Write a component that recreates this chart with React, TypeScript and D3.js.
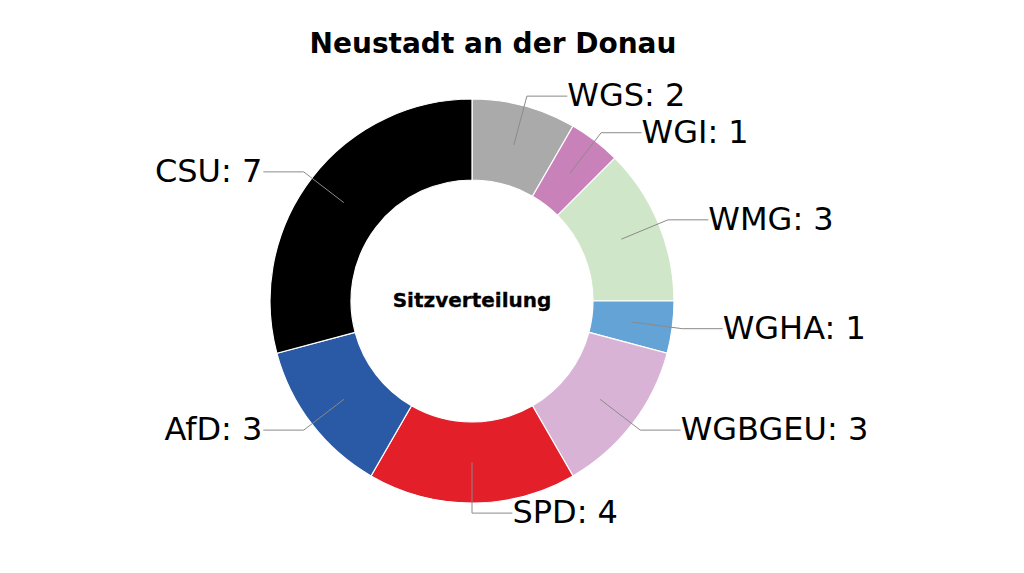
import React from "react";
import * as d3 from "d3";

const parties = ["WGS", "WGI", "WMG", "WGHA", "WGBGEU", "SPD", "AfD", "CSU"];
const seats = [2, 1, 3, 1, 3, 4, 3, 7];
const colors = ["#aaaaaa", "#c981b9", "#d0e6c8", "#64a3d6", "#d8b3d6", "#e31f2a", "#2a5aa6", "#000000"];
const title = "Neustadt an der Donau";
const centerLabel = "Sitzverteilung";

const W = 1024;
const H = 573;
const cx = 472;
const cy = 301;
const R = 202;
const r0 = 121;
const FONT = "'DejaVu Sans', sans-serif";

export default function App() {
  const data = parties.map((p, i) => ({ party: p, seats: seats[i], color: colors[i] }));
  const pie = d3.pie<any>().value((d) => d.seats).sort(null).startAngle(0).endAngle(2 * Math.PI);
  const arcs = pie(data);
  const arcGen = d3.arc<any>().innerRadius(r0).outerRadius(R);

  return (
    <svg width={W} height={H} style={{ position: "absolute", left: 0, top: 0, background: "#fff" }}>
      <text x={493} y={53} textAnchor="middle" fontFamily={FONT} fontWeight="bold" fontSize={28} fill="#000">
        {title}
      </text>
      <g transform={`translate(${cx},${cy})`}>
        {arcs.map((a, i) => (
          <path key={i} d={arcGen(a) as string} fill={a.data.color} stroke="#fff" strokeWidth={1.2} />
        ))}
        {arcs.map((a, i) => {
          const mid = (a.startAngle + a.endAngle) / 2;
          const s = Math.sin(mid);
          const c = Math.cos(mid);
          const sign = s < -1e-9 ? -1 : 1;
          const sx = 0.8 * R * s;
          const sy = -0.8 * R * c;
          const ty = -1.05 * R * c;
          const tx = (1.05 * s + 0.2 * sign) * R;
          let kx = sx;
          if (Math.abs(c) > 1e-6) {
            const t = (ty - sy) / -c;
            kx = sx + t * s;
          }
          const label = `${a.data.party}: ${a.data.seats}`;
          return (
            <g key={"l" + i}>
              <polyline
                points={`${sx},${sy} ${kx},${ty} ${tx},${ty}`}
                fill="none"
                stroke="#8a8a8a"
                strokeWidth={1}
              />
              <text
                x={sign > 0 ? tx : tx - 1}
                y={ty + 10}
                textAnchor={sign > 0 ? "start" : "end"}
                fontFamily={FONT}
                fontSize={32}
                fill="#000"
              >
                {label}
              </text>
            </g>
          );
        })}
        <text x={0} y={6} textAnchor="middle" fontFamily={FONT} fontWeight="bold" fontSize={20} fill="#000" stroke="#000" strokeWidth={0.3}>
          {centerLabel}
        </text>
      </g>
    </svg>
  );
}
